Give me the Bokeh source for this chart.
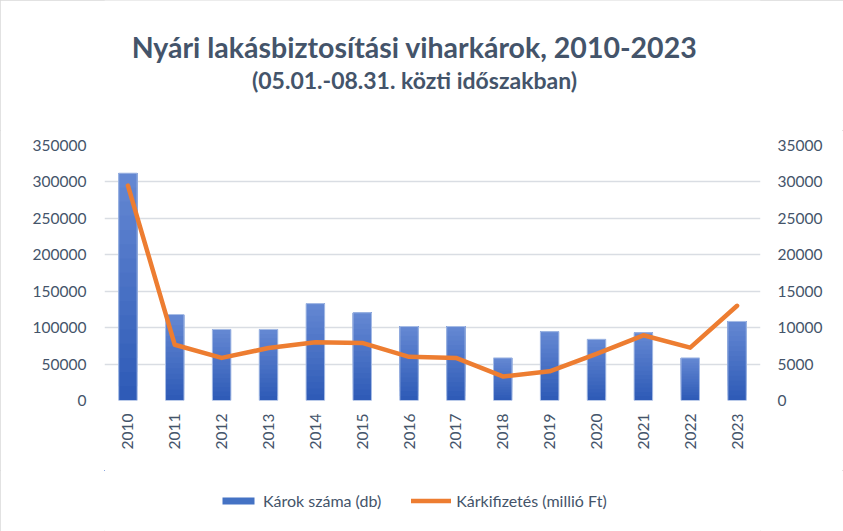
import math
from bokeh.plotting import figure
from bokeh.layouts import column
from bokeh.models import (Range1d, LinearAxis, SingleIntervalTicker, NumeralTickFormatter,
                          Legend, LegendItem, Label, FixedTicker)
from bokeh.embed import file_html
from bokeh.resources import INLINE

years = ["2010", "2011", "2012", "2013", "2014", "2015", "2016",
         "2017", "2018", "2019", "2020", "2021", "2022", "2023"]
claims_count = [312000, 118000, 97500, 97500, 133000, 120500, 101500,
                101500, 58500, 94500, 84000, 93000, 58500, 108500]
payout_mft = [29500, 7650, 5850, 7200, 8000, 7900, 6000,
              5850, 3300, 4000, 6400, 8950, 7250, 13000]

title_text = "Nyári lakásbiztosítási viharkárok, 2010-2023"
subtitle_text = "(05.01.-08.31. közti időszakban)"
bar_label = "Károk száma (db)"
line_label = "Kárkifizetés (millió Ft)"

FONT = "Lato"
TXT = "#44546A"
GRID = "#D9DDE3"
BAR_TOP = (0x65, 0x88, 0xD3)
BAR_BOTTOM = (0x2D, 0x5A, 0xB6)
BAR_MID = "#4472C4"
LINE_COL = "#ED7D31"
N_SHADE = 16
W = 843
FRAME_L, FRAME_R = 104, 760   # frames of the stacked figures are aligned

pos = list(range(len(years)))

# ---------- title strip ----------
tf = figure(width=W, height=130, x_range=Range1d(FRAME_L, FRAME_R), y_range=Range1d(0, 130),
            min_border=0, x_axis_type=None, y_axis_type=None,
            output_backend="svg", toolbar_location=None, title=None)
tf.outline_line_color = None
tf.add_layout(Label(x=414, y=84, text=title_text, text_align="center",
                    text_baseline="alphabetic", text_font=FONT, text_font_style="bold",
                    text_font_size="28.5px", text_color=TXT))
tf.add_layout(Label(x=414, y=51, text=subtitle_text, text_align="center",
                    text_baseline="alphabetic", text_font=FONT, text_font_style="bold",
                    text_font_size="23px", text_color=TXT))

# ---------- main chart ----------
p = figure(x_range=Range1d(-0.5, len(years) - 0.5), y_range=Range1d(0, 350000),
           frame_width=656, frame_height=255,
           min_border_left=104, min_border_right=83, min_border_top=15, min_border_bottom=70,
           output_backend="svg", toolbar_location=None, title=None)
p.extra_y_ranges = {"y2": Range1d(0, 35000)}
p.outline_line_color = None
p.background_fill_color = "white"
p.border_fill_color = "white"

# bars with a vertical shading (lighter at the top), overlapping layers
for k in range(N_SHADE):
    t = (k + 0.5) / N_SHADE
    rgb = tuple(round(b + (a - b) * t) for a, b in zip(BAR_TOP, BAR_BOTTOM))
    col = "#%02x%02x%02x" % rgb
    p.vbar(x=pos, bottom=[v * k / N_SHADE for v in claims_count], top=claims_count,
           width=0.395, fill_color=col, line_color=None)
p.vbar(x=pos, top=claims_count, width=0.395, fill_color=None,
       line_color="#A9BEE6", line_width=1)

p.line(x=pos, y=payout_mft, y_range_name="y2", line_color=LINE_COL,
       line_width=4.5, line_join="round", line_cap="round")

p.yaxis.ticker = SingleIntervalTicker(interval=50000, num_minor_ticks=0)
p.yaxis.formatter = NumeralTickFormatter(format="0")
ax2 = LinearAxis(y_range_name="y2", ticker=SingleIntervalTicker(interval=5000, num_minor_ticks=0),
                 formatter=NumeralTickFormatter(format="0"))
p.add_layout(ax2, "right")

for ax in [p.yaxis[0], ax2]:
    ax.axis_line_color = None
    ax.major_tick_line_color = None
    ax.minor_tick_line_color = None
    ax.major_tick_out = 0
    ax.major_tick_in = 0
    ax.major_label_text_font = FONT
    ax.major_label_text_font_size = "15.5px"
    ax.major_label_text_color = TXT
p.yaxis[0].major_label_standoff = 18
ax2.major_label_standoff = 17

xa = p.xaxis[0]
xa.ticker = FixedTicker(ticks=pos)
xa.major_label_overrides = {i: y for i, y in zip(pos, years)}
xa.axis_line_color = None
xa.major_tick_line_color = None
xa.minor_tick_line_color = None
xa.major_tick_out = 0
xa.major_tick_in = 0
xa.major_label_orientation = math.pi / 2
xa.major_label_text_font = FONT
xa.major_label_text_font_size = "15.5px"
xa.major_label_text_color = TXT
xa.major_label_standoff = 13

p.xgrid.grid_line_color = None
p.ygrid.grid_line_color = GRID
p.ygrid.grid_line_width = 1.5

# ---------- legend strip ----------
# proxy renderers carry the real data but lie outside this strip's visible ranges
lf = figure(width=W, height=61, x_range=Range1d(FRAME_L, FRAME_R), y_range=Range1d(-2, -1),
            min_border=0, x_axis_type=None, y_axis_type=None,
            output_backend="svg", toolbar_location=None, title=None)
lf.outline_line_color = None
bar_proxy = lf.vbar(x=pos, top=claims_count, width=0.4, fill_color=BAR_MID, line_color=None)
line_proxy = lf.line(x=pos, y=payout_mft, line_color=LINE_COL, line_width=4.5, line_cap="round")
legend = Legend(items=[LegendItem(label=bar_label, renderers=[bar_proxy]),
                       LegendItem(label=line_label, renderers=[line_proxy])],
                orientation="horizontal", location=(114, 21),
                glyph_width=40, glyph_height=9, label_standoff=5, spacing=30,
                padding=0, margin=0, border_line_color=None, background_fill_alpha=0,
                label_text_font=FONT, label_text_font_size="16px", label_text_color=TXT)
lf.add_layout(legend, "center")

page = column(tf, p, lf, spacing=0)
page.styles = {"outline": "1px solid #D9D9D9", "outline-offset": "-1px"}

open("out.html", "w").write(file_html(page, INLINE))
